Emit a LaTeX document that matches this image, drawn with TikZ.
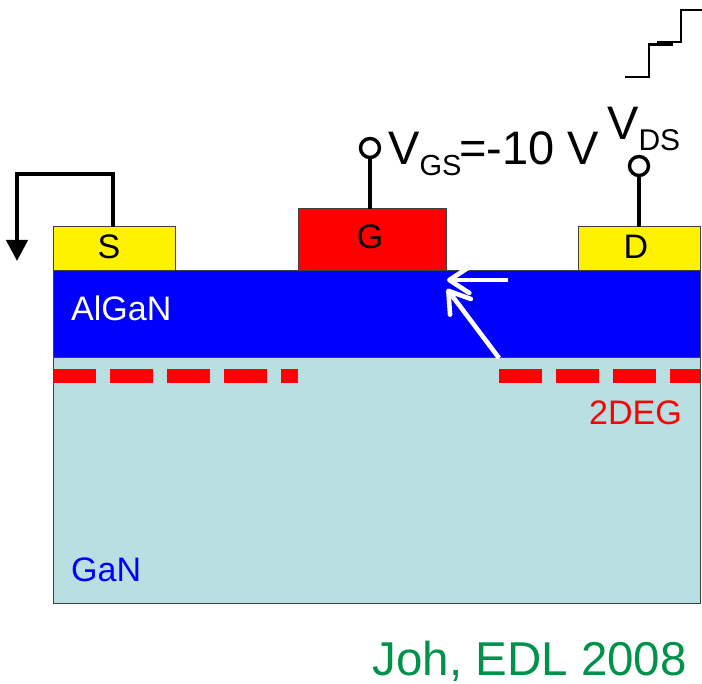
\documentclass[tikz,border=0pt]{standalone}
\usepackage{fontspec}
\setmainfont{Liberation Sans}
\usepackage{tikz}
\usetikzlibrary{arrows.meta}
\definecolor{gancol}{HTML}{B9DFE3}
\definecolor{johgreen}{HTML}{00924A}
\newcommand{\fsz}[1]{\fontsize{#1}{#1}\selectfont}
\newcommand{\vlabel}[2]{V\raisebox{-10.5pt}{\fsz{#1}#2}}
\tikzset{
  layer/.style={draw=black!75, line width=1pt, inner sep=0pt, outer sep=0pt, minimum width=647pt},
  contact/.style={draw=black!75, line width=1pt, inner sep=0pt, outer sep=0pt},
  lbl/.style={font=\fsz{34}, inner sep=0pt},
  wire/.style={line width=4.4pt},
  pin/.style={circle, draw=black, fill=white, line width=3.4pt, inner sep=0pt, minimum size=19pt},
  channel/.style={red, line width=14pt, dash pattern=on 43pt off 14pt},
  field/.style={white, line width=4.6pt, -{Straight Barb[length=20pt,width=26pt,round]}}
}
\begin{document}
\begin{tikzpicture}[x=1pt, y=-1pt]
\useasboundingbox (0,0) rectangle (702,684);
\node[layer, fill=gancol, minimum height=245pt] (gan) at (376.5,480.5) {};
\node[layer, fill=blue, minimum height=87pt] (algan) at (376.5,314.5) {};
\node[contact, fill=yellow, minimum width=122pt, minimum height=44pt] (source) at (114,249) {};
\node[contact, fill=red, minimum width=148pt, minimum height=62pt] (gate) at (372,240) {};
\node[contact, fill=yellow, minimum width=122pt, minimum height=44pt] (drain) at (639,249) {};
\node[lbl] (slabel) at (109,247) {S};
\node[lbl] (glabel) at (370,237) {G};
\node[lbl] (dlabel) at (636,247) {D};
\node[lbl, text=white, anchor=west] (alganlabel) at (71,308) {AlGaN};
\node[lbl, text=blue, anchor=west] (ganlabel) at (71,570) {GaN};
\node[lbl, text=red, anchor=east] (deglabel) at (682,413) {2DEG};
% channel
\coordinate (chla) at (53,376);
\coordinate (chlb) at (298,376);
\coordinate (chra) at (499,376);
\coordinate (chrb) at (700,376);
\draw[channel] (chla) -- (chlb);
\draw[channel] (chra) -- (chrb);
% source return
\coordinate (ground) at (17,261);
\draw[wire, -{Triangle[length=21pt,width=21pt]}] (113,227) -- (113,174) -| (ground);
% pins
\node[pin] (gatepin) at (370,148) {};
\node[pin] (drainpin) at (639,166) {};
\draw[wire] (gatepin) -- (gatepin |- gate.north);
\draw[wire] (drainpin) -- (drainpin |- drain.north);
\node[anchor=base west, font=\fsz{47}, inner sep=0pt] (vgs) at (388,165) {\vlabel{29}{GS}\kern-2pt=-10 V};
\node[anchor=base west, font=\fsz{47}, inner sep=0pt] (vds) at (607,140) {\vlabel{30}{DS}};
% gate step
\draw[line width=2.8pt] (625,77) -- (649,77) -- (649,44.7) -- (673,44.7);
\draw[line width=2.8pt] (657,42) -- (681,42) -- (681,10) -- (702,10);
% field arrows
\coordinate (fieldh) at (447,280);
\coordinate (fieldd) at (447,289);
\draw[field] (508,280) -- (fieldh);
\draw[field] (499,358) -- (fieldd);
\node[anchor=base east, font=\fsz{47.5}, text=johgreen, inner sep=0pt] (joh) at (687,675) {Joh, EDL 2008};
\end{tikzpicture}
\end{document}
